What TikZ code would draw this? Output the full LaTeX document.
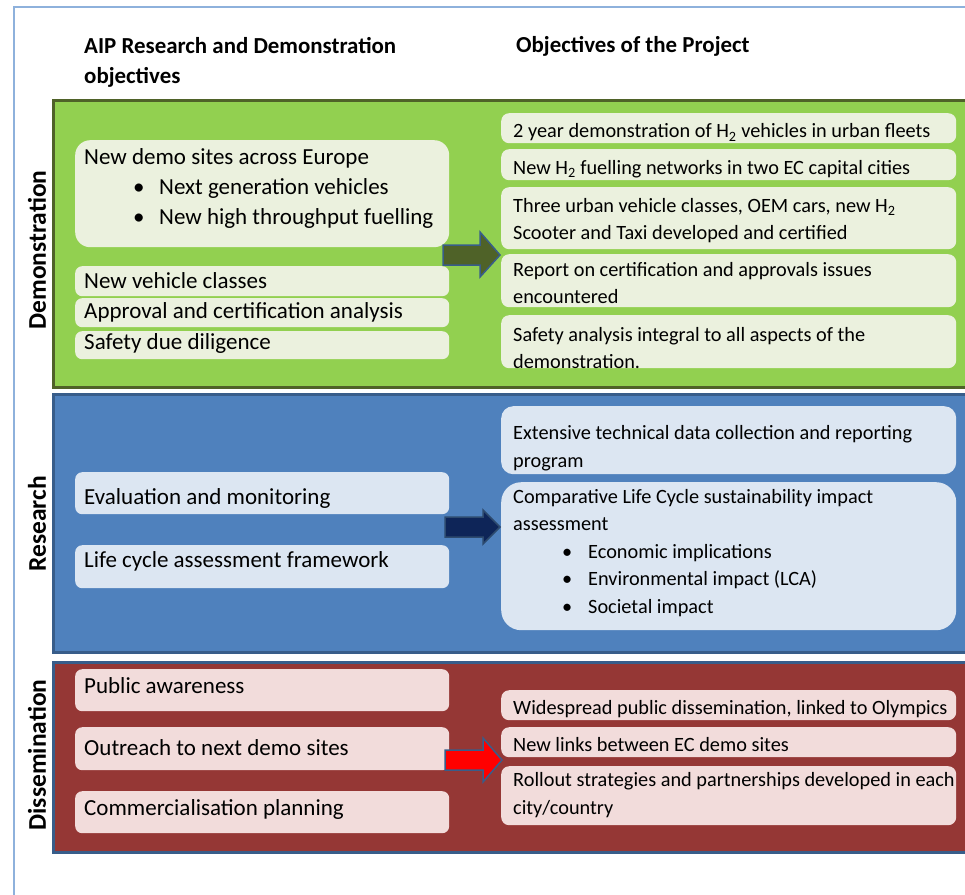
\documentclass[tikz,border=0pt]{standalone}
\usepackage{fontspec}
\setmainfont{Carlito}
\newfontfamily\rfam{Carlito}
\newcommand\lfont{\fontsize{23}{30}\selectfont}
\newcommand\rfont{\rfam\fontsize{20.3}{27.5}\selectfont}
\newcommand\hfont{\bfseries\fontsize{22.9}{31}\selectfont}
\newcommand\sfont{\bfseries\fontsize{25.5}{28}\selectfont}
\newcommand\bul[1]{\hspace*{49pt}\makebox[26pt][l]{\textbullet}#1}
\definecolor{frame}{HTML}{8EB1DC}
\definecolor{gfill}{HTML}{92D050}
\definecolor{gborder}{HTML}{4F6228}
\definecolor{gbox}{HTML}{EBF1DE}
\definecolor{bfill}{HTML}{4F81BD}
\definecolor{bborder}{HTML}{385D8A}
\definecolor{bbox}{HTML}{DCE6F2}
\definecolor{rfill}{HTML}{953735}
\definecolor{rbox}{HTML}{F2DCDB}
\definecolor{navy}{HTML}{0E2558}
\begin{document}
\begin{tikzpicture}[x=1pt,y=-1pt,
  panel/.style={draw, line width=3pt, rectangle, anchor=north west, inner sep=0},
  box/.style={rectangle, rounded corners=7pt, anchor=north west, inner sep=0, minimum width=374pt},
  rbx/.style={rectangle, rounded corners=8pt, anchor=north west, inner sep=0, minimum width=455pt},
  lt/.style={anchor=west, inner sep=0, font=\lfont, align=left},
  rt/.style={anchor=west, inner sep=0, font=\rfont, align=left},
  ht/.style={anchor=west, inner sep=0, font=\hfont, align=left},
  side/.style={inner sep=0, font=\sfont, rotate=90},
  blk/.style={line width=1.5pt, draw=bborder, line join=miter}]
\useasboundingbox (0,0) rectangle (965,894);
\clip (0,0) rectangle (965,894);
\fill[white] (0,0) rectangle (965,894);
% outer frame
\draw[frame, line width=1.5pt] (14,900) -- (14,7) -- (975,7);
% headers
\node[ht] (h1) at (84,46) {AIP Research and Demonstration};
\node[ht] (h2) at (84,77) {objectives};
\node[ht] (h3) at (516,46) {Objectives of the Project};
% ---------- Demonstration ----------
\node[panel, fill=gfill, draw=gborder, minimum width=940pt, minimum height=287pt] (demo) at (52,99) {};
\node[side] (demoL) at (37,250) {Demonstration};
\node[box, fill=gbox, rounded corners=15pt, minimum height=107pt] (dA) at (75,140) {};
\node[lt] (dAt) at (84,158) {New demo sites across Europe};
\node[lt] (dAb1) at (84,188) {\bul{Next generation vehicles}};
\node[lt] (dAb2) at (84,218) {\bul{New high throughput fuelling}};
\node[box, fill=gbox, minimum height=30pt] (dB) at (75,266) {};
\node[lt] (dBt) at (84,281) {New vehicle classes};
\node[box, fill=gbox, minimum height=29pt] (dC) at (75,298) {};
\node[lt] (dCt) at (84,312) {Approval and certification analysis};
\node[box, fill=gbox, minimum height=28pt] (dD) at (75,331) {};
\node[lt] (dDt) at (84,343) {Safety due diligence};
\node[rbx, fill=gbox, minimum height=30pt] (d1) at (501,113) {};
\node[rt] (d1t) at (513,132.5) {2 year demonstration of H\textsubscript{2} vehicles in urban fleets};
\node[rbx, fill=gbox, minimum height=31pt] (d2) at (501,149) {};
\node[rt] (d2t) at (513,169) {New H\textsubscript{2} fuelling networks in two EC capital cities};
\node[rbx, fill=gbox, minimum height=62pt] (d3) at (501,187) {};
\node[rt] (d3t) at (513,220.5) {Three urban vehicle classes, OEM cars, new H\textsubscript{2}\\Scooter and Taxi developed and certified};
\node[rbx, fill=gbox, minimum height=53pt] (d4) at (501,254) {};
\node[rt] (d4t) at (513,283) {Report on certification and approvals issues\\encountered};
\node[rbx, fill=gbox, minimum height=53pt] (d5) at (501,315) {};
\node[rt] (d5t) at (513,348) {Safety analysis integral to all aspects of the\\demonstration.};
\coordinate (ga) at (443,255);
\draw[blk, fill=gborder] (ga) ++(0,-10) -- ++(37,0) -- ++(0,-13) -- ++(20,23) -- ++(-20,22) -- ++(0,-12) -- ++(-37,0) -- cycle;
% ---------- Research ----------
\node[panel, fill=bfill, draw=bborder, minimum width=940pt, minimum height=258pt] (res) at (52,393) {};
\node[side] (resL) at (37,524) {Research};
\node[box, fill=bbox, minimum height=42pt] (rE) at (75,472) {};
\node[lt] (rEt) at (84,498.5) {Evaluation and monitoring};
\node[box, fill=bbox, minimum height=43pt] (rF) at (75,545) {};
\node[lt] (rFt) at (84,561.5) {Life cycle assessment framework};
\node[rbx, fill=bbox, minimum height=68pt, rounded corners=12pt] (r1) at (501,406) {};
\node[rt] (r1t) at (513,448) {Extensive technical data collection and reporting\\program};
\node[rbx, fill=bbox, minimum height=148pt, rounded corners=20pt] (r2) at (501,482) {};
\node[rt, anchor=north west] (r2t) at (513,489) {Comparative Life Cycle sustainability impact\\assessment\\\bul{Economic implications}\\\bul{Environmental impact (LCA)}\\\bul{Societal impact}};
\coordinate (ba) at (445,527);
\draw[blk, fill=navy, draw=bborder!80!black] (ba) ++(0,-10) -- ++(38,0) -- ++(0,-7) -- ++(17,17) -- ++(-17,17) -- ++(0,-7) -- ++(-38,0) -- cycle;
% ---------- Dissemination ----------
\node[panel, fill=rfill, draw=bborder, minimum width=940pt, minimum height=190pt] (dis) at (52,661) {};
\node[side] (disL) at (37,755) {Dissemination};
\node[box, fill=rbox, minimum height=42pt] (sP) at (75,669) {};
\node[lt] (sPt) at (84,685.5) {Public awareness};
\node[box, fill=rbox, minimum height=43pt] (sO) at (75,727) {};
\node[lt] (sOt) at (84,747.5) {Outreach to next demo sites};
\node[box, fill=rbox, minimum height=42pt] (sC) at (75,791) {};
\node[lt] (sCt) at (84,809.5) {Commercialisation planning};
\node[rbx, fill=rbox, minimum height=30pt] (s1) at (501,690) {};
\node[rt] (s1t) at (513,709) {Widespread public dissemination, linked to Olympics};
\node[rbx, fill=rbox, minimum height=30pt] (s2) at (501,727) {};
\node[rt] (s2t) at (513,744.5) {New links between EC demo sites};
\node[rbx, fill=rbox, minimum height=59pt] (s3) at (501,766) {};
\node[rt] (s3t) at (513,795) {Rollout strategies and partnerships developed in each\\city/country};
\coordinate (ra) at (445,760);
\draw[blk, fill=red] (ra) ++(0,-10) -- ++(38,0) -- ++(0,-12) -- ++(19,22) -- ++(-19,22) -- ++(0,-12) -- ++(-38,0) -- cycle;
\end{tikzpicture}
\end{document}
